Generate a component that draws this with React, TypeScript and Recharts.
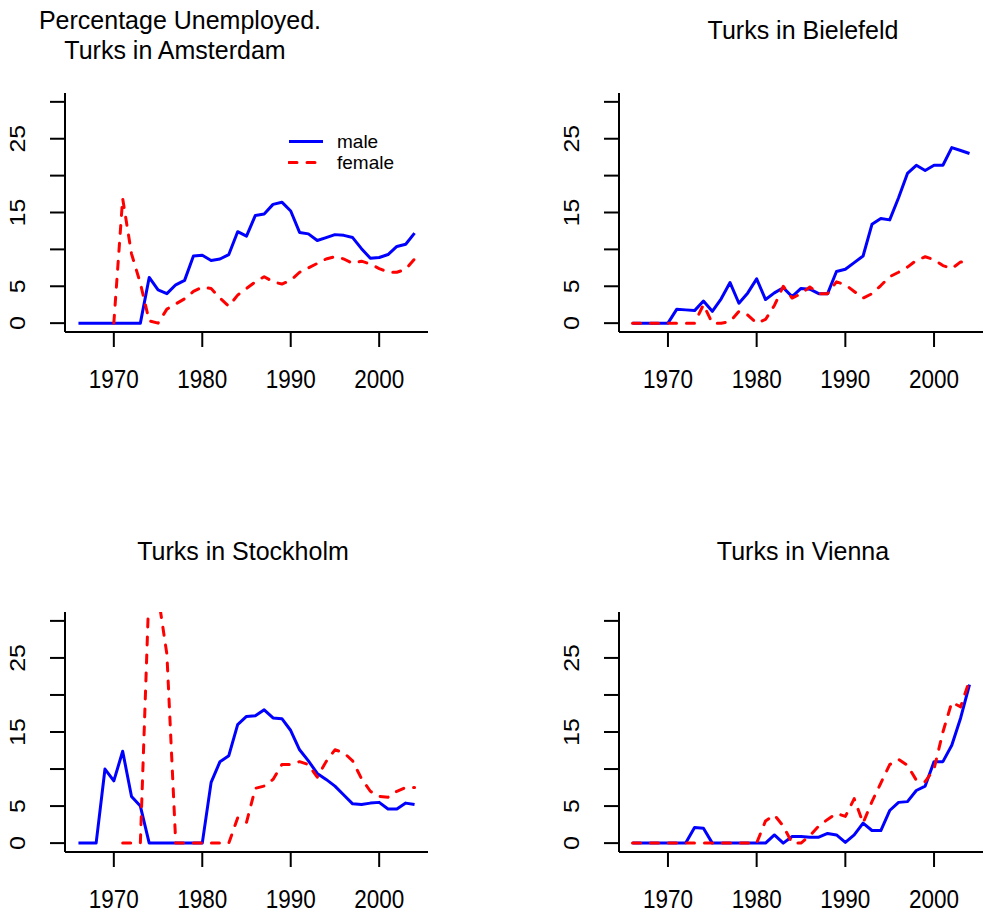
import { LineChart, Line, XAxis, YAxis } from "recharts";

// Percentage unemployed among Turkish migrants, by city and sex
const years = [
  1966, 1967, 1968, 1969, 1970, 1971, 1972, 1973, 1974, 1975, 1976, 1977, 1978,
  1979, 1980, 1981, 1982, 1983, 1984, 1985, 1986, 1987, 1988, 1989, 1990, 1991,
  1992, 1993, 1994, 1995, 1996, 1997, 1998, 1999, 2000, 2001, 2002, 2003, 2004,
];

const amsterdamMale = [
  0, 0, 0, 0, 0, 0, 0, 0, 6.2, 4.5, 4.0, 5.2, 5.8, 9.1, 9.2, 8.5, 8.7, 9.3, 12.4,
  11.8, 14.6, 14.8, 16.1, 16.4, 15.2, 12.3, 12.1, 11.2, 11.6, 12.0, 11.9, 11.6,
  10.1, 8.8, 8.9, 9.3, 10.4, 10.7, 12.2,
];
const amsterdamFemale = [
  null, null, null, null, 0, 16.9, 9.4, 5.4, 0.3, 0, 1.9, 2.6, 3.3, 4.3, 4.9, 4.7,
  3.4, 2.3, 3.8, 4.7, 5.6, 6.3, 5.6, 5.3, 5.8, 6.9, 7.5, 8.1, 8.7, 9.0, 8.7, 8.1,
  8.4, 8.0, 7.4, 6.9, 6.9, 7.3, 8.7,
];

const bielefeldMale = [
  0, 0, 0, 0, 0, 1.9, 1.8, 1.7, 3.0, 1.6, 3.3, 5.5, 2.7, 4.1, 6.0, 3.2, 4.1, 4.8,
  3.6, 4.7, 4.6, 4.0, 4.0, 7.0, 7.3, 8.2, 9.1, 13.4, 14.2, 14.0, 17.0, 20.3, 21.4,
  20.7, 21.4, 21.4, 23.8, 23.4, 23.0,
];
const bielefeldFemale = [
  0, 0, 0, 0, 0, 0, 0, 0, 2.5, 0, 0, 0.2, 1.6, 1.1, 0, 0.5, 2.4, 5.0, 3.4, 4.0,
  4.9, 4.0, 4.0, 5.6, 5.2, 4.3, 3.4, 4.0, 5.1, 6.3, 6.9, 7.6, 8.5, 9.0, 8.6, 7.8,
  7.4, 8.3, 8.1,
];

const stockholmMale = [
  0, 0, 0, 10.0, 8.4, 12.4, 6.3, 5.0, 0, 0, 0, 0, 0, 0, 0, 8.2, 11.0, 11.8, 16.0,
  17.1, 17.2, 18.0, 16.9, 16.8, 15.2, 12.6, 11.1, 9.4, 8.6, 7.7, 6.5, 5.3, 5.2,
  5.4, 5.5, 4.6, 4.6, 5.4, 5.2,
];
const stockholmFemale = [
  null, null, null, null, null, 0, 0, 0, 35.0, 33.5, 25.5, 0, 0, 0, 0, 0, 0, 0,
  3.4, 2.8, 7.4, 7.7, 8.6, 10.6, 10.6, 11.0, 10.6, 8.9, 11.0, 12.6, 12.2, 11.1,
  8.7, 7.0, 6.3, 6.2, 7.0, 7.5, 7.5,
];

const viennaMale = [
  0, 0, 0, 0, 0, 0, 0, 2.1, 2.0, 0, 0, 0, 0, 0, 0, 0, 1.1, 0, 0.9, 0.9, 0.8, 0.8,
  1.3, 1.1, 0.1, 1.1, 2.7, 1.7, 1.7, 4.4, 5.5, 5.6, 7.1, 7.7, 11.0, 11.0, 13.2,
  16.9, 21.4,
];
const viennaFemale = [
  0, 0, 0, 0, 0, 0, 0, 0, 0, 0, 0, 0, 0, 0, 0, 3.0, 3.8, 2.3, 0, 0, 1.0, 2.3, 3.2,
  4.0, 3.6, 6.0, 2.7, 5.6, 8.1, 10.6, 11.3, 10.5, 8.5, 8.3, 10.0, 15.0, 19.0,
  18.4, 22.0,
];

const xTicks = [1970, 1980, 1990, 2000];
const yTicks = [0, 5, 10, 15, 20, 25, 30];
const yLabelled = [0, 5, 15, 25];

const FONT = '"Liberation Sans", Arial, Helvetica, sans-serif';
const Y_W = 60;
const X_H = 60;

type Rect = { left: number; top: number; width: number; height: number };
type Plot = { left: number; top: number; right: number; bottom: number };

function rowsOf(male: (number | null)[], female: (number | null)[]) {
  return years.map((year, i) => ({ year, male: male[i], female: female[i] }));
}

// axis numbers are slightly narrow for their height
function XTick(props: any) {
  const { x, y, payload } = props;
  return (
    <text
      transform={`translate(${x} ${y}) scale(0.9 1)`}
      textAnchor="middle"
      dominantBaseline="central"
      fontSize={25}
      fontFamily={FONT}
      fill="#000"
    >
      {payload.value}
    </text>
  );
}

function YTick(props: any) {
  const { x, y, payload } = props;
  if (!yLabelled.includes(payload.value)) return <g />;
  return (
    <text
      transform={`translate(${x} ${y}) rotate(-90) scale(1 0.85)`}
      textAnchor="middle"
      dominantBaseline="central"
      fontSize={25}
      fontFamily={FONT}
      fill="#000"
    >
      {payload.value}
    </text>
  );
}

function Panel({ box, plot, male, female }: { box: Rect; plot: Plot; male: (number | null)[]; female: (number | null)[] }) {
  const margin = {
    top: plot.top - box.top,
    left: plot.left - box.left - Y_W,
    right: box.left + box.width - plot.right,
    bottom: box.top + box.height - plot.bottom - X_H,
  };
  const axisStroke = { stroke: "#000", strokeWidth: 2 };
  return (
    <div style={{ position: "absolute", left: box.left, top: box.top }}>
      <LineChart width={box.width} height={box.height} data={rowsOf(male, female)} margin={margin}>
        <XAxis
          dataKey="year"
          type="number"
          domain={[1964.48, 2005.52]}
          allowDataOverflow
          ticks={xTicks}
          height={X_H}
          tickSize={15}
          tickMargin={32}
          axisLine={axisStroke}
          tickLine={axisStroke}
          tick={<XTick />}
        />
        <YAxis
          type="number"
          domain={[-1.2, 31.2]}
          allowDataOverflow
          ticks={yTicks}
          width={Y_W}
          tickSize={15}
          tickMargin={32}
          axisLine={axisStroke}
          tickLine={axisStroke}
          tick={<YTick />}
        />
        <Line
          type="linear"
          dataKey="male"
          stroke="#0000ff"
          strokeWidth={3}
          strokeLinejoin="round"
          dot={false}
          isAnimationActive={false}
        />
        <Line
          type="linear"
          dataKey="female"
          stroke="#ff0000"
          strokeWidth={3}
          strokeDasharray="8 10"
          strokeLinecap="round"
          strokeLinejoin="round"
          dot={false}
          isAnimationActive={false}
        />
      </LineChart>
    </div>
  );
}

function Title({ cx, cy, text }: { cx: number; cy: number; text: string }) {
  return (
    <div
      style={{
        position: "absolute",
        left: cx - 250,
        top: cy - 14,
        width: 500,
        height: 28,
        textAlign: "center",
        whiteSpace: "pre",
        fontFamily: FONT,
        fontSize: 25,
        lineHeight: "28px",
        color: "#000",
      }}
    >
      {text}
    </div>
  );
}

function Legend() {
  const rows = [
    { label: "male", color: "#0000ff", dash: undefined },
    { label: "female", color: "#ff0000", dash: "8 10" },
  ];
  return (
    <div style={{ position: "absolute", left: 288, top: 131, fontFamily: FONT, fontSize: 19 }}>
      {rows.map((r) => (
        <div key={r.label} style={{ display: "flex", alignItems: "center", height: 21 }}>
          <svg width={36} height={21} style={{ marginRight: 13 }}>
            <line x1={1} y1={10.5} x2={35} y2={10.5} stroke={r.color} strokeWidth={3} strokeDasharray={r.dash} strokeLinecap={r.dash ? "round" : "butt"} />
          </svg>
          <span style={{ display: "block", height: 21, lineHeight: "21px" }}>{r.label}</span>
        </div>
      ))}
    </div>
  );
}

export default function App() {
  return (
    <div style={{ position: "absolute", left: 0, top: 0, width: 985, height: 916, background: "#fff" }}>
      <Panel
        box={{ left: 0, top: 0, width: 492, height: 458 }}
        plot={{ left: 65, top: 93, right: 428, bottom: 332 }}
        male={amsterdamMale}
        female={amsterdamFemale}
      />
      <Panel
        box={{ left: 492, top: 0, width: 493, height: 458 }}
        plot={{ left: 619, top: 93, right: 983, bottom: 332 }}
        male={bielefeldMale}
        female={bielefeldFemale}
      />
      <Panel
        box={{ left: 0, top: 458, width: 492, height: 458 }}
        plot={{ left: 65, top: 612, right: 428, bottom: 852 }}
        male={stockholmMale}
        female={stockholmFemale}
      />
      <Panel
        box={{ left: 492, top: 458, width: 493, height: 458 }}
        plot={{ left: 619, top: 612, right: 983, bottom: 852 }}
        male={viennaMale}
        female={viennaFemale}
      />
      <Title cx={180} cy={20} text="Percentage Unemployed." />
      <Title cx={175} cy={50} text="Turks in Amsterdam" />
      <Title cx={803} cy={30} text="Turks in Bielefeld" />
      <Title cx={243} cy={551} text="Turks in Stockholm" />
      <Title cx={803} cy={551} text="Turks in Vienna" />
      <Legend />
    </div>
  );
}
